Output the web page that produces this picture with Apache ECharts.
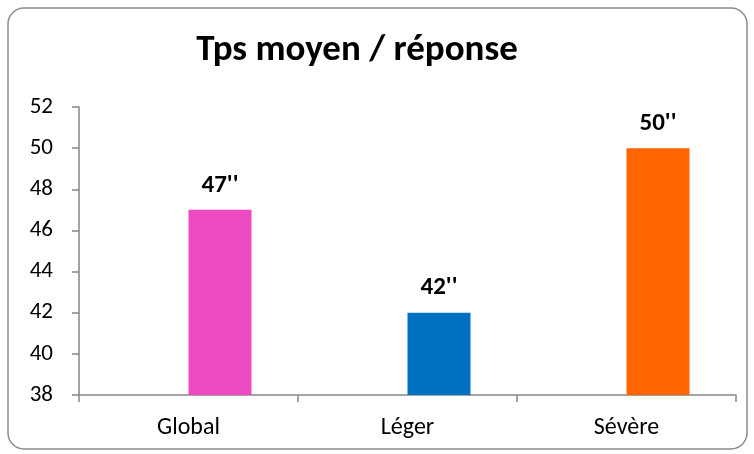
<!DOCTYPE html>
<html><head><meta charset="utf-8">
<script src="https://cdn.jsdelivr.net/npm/echarts@6/dist/echarts.min.js"></script>
<style>html,body{margin:0;padding:0;background:#fff}#c{width:754px;height:454px}</style>
</head><body><div id="c"></div>
<script>
const categories = ['Global', 'Léger', 'Sévère'];
const values = [47, 42, 50];
const labels = ["47''", "42''", "50''"];
const colors = ['#EE4BC0', '#0070C0', '#FF6600'];
const yTicks = [38, 40, 42, 44, 46, 48, 50, 52];
const titleText = 'Tps moyen / réponse';

const chart = echarts.init(document.getElementById('c'), null, {renderer: 'canvas'});
const font = 'Carlito, "Liberation Sans", "Noto Sans", sans-serif';
chart.setOption({
  animation: false,
  backgroundColor: '#fff',
  title: {text: titleText, left: 352, top: 27, textAlign: 'center',
    textStyle: {fontFamily: font, fontWeight: 'bold', fontSize: 37, color: '#000'}},
  graphic: [{type: 'rect', shape: {x: 8, y: 8, width: 739, height: 441, r: 16},
    style: {fill: 'none', stroke: '#8c8c8c', lineWidth: 1.5}, z: 100}],
  grid: {left: 79, right: 18, top: 107, bottom: 59},
  xAxis: {type: 'category', data: categories,
    axisLine: {lineStyle: {color: '#868686', width: 1.5}},
    axisTick: {show: true, alignWithLabel: false, length: 7, lineStyle: {color: '#868686', width: 1.5}},
    axisLabel: {fontFamily: font, fontSize: 24, color: '#000', margin: 21}},
  yAxis: {type: 'value', min: yTicks[0], max: yTicks[yTicks.length - 1], interval: 2,
    splitLine: {show: false},
    axisLine: {show: true, lineStyle: {color: '#868686', width: 1.5}},
    axisTick: {show: true, length: 7, lineStyle: {color: '#868686', width: 1.5}},
    axisLabel: {fontFamily: font, fontSize: 23, color: '#000', margin: 26}},
  series: [
    {type: 'bar', data: categories.map(() => '-'), barWidth: 63, barGap: '0%'},
    {type: 'bar', barWidth: 63, barGap: '0%',
     data: values.map((v, i) => ({value: v, itemStyle: {color: colors[i]}})),
     label: {show: true, position: 'top', distance: 12, formatter: p => labels[p.dataIndex],
       fontFamily: font, fontWeight: 'bold', fontSize: 25, color: '#000'}}
  ]
});
</script></body></html>
